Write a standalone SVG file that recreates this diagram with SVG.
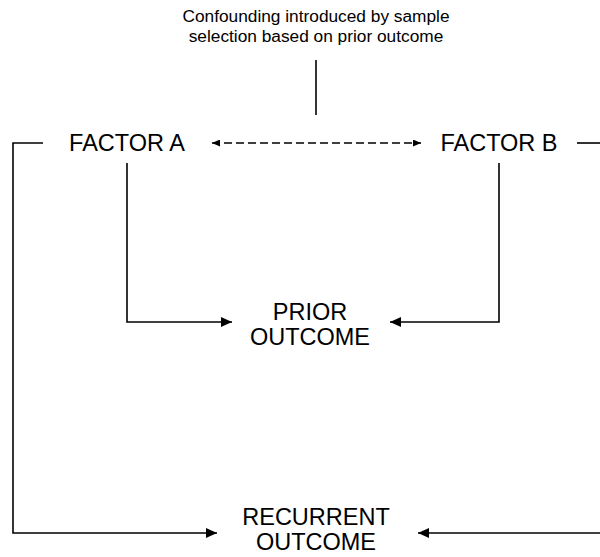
<svg xmlns="http://www.w3.org/2000/svg" width="600" height="557" viewBox="0 0 600 557">
<style>
.lbl{font-family:"Liberation Sans",Arial,sans-serif;font-size:23.5px;fill:#000;text-anchor:middle}
.note{font-family:"Liberation Sans",Arial,sans-serif;font-size:17.3px;fill:#000;text-anchor:middle}
.ln{fill:none;stroke:#000;stroke-width:1.6}
.dash{fill:none;stroke:#000;stroke-width:1.6;stroke-dasharray:8 4}
</style>
<defs>
<marker id="ah" viewBox="0 0 11 10" refX="11" refY="5" markerWidth="11" markerHeight="10" markerUnits="userSpaceOnUse" orient="auto">
<path d="M0,0 L11,5 L0,10 Z" fill="#000"/>
</marker>
<marker id="ahs" viewBox="0 0 8 7" refX="8" refY="3.5" markerWidth="8" markerHeight="7" markerUnits="userSpaceOnUse" orient="auto-start-reverse">
<path d="M0,0 L8,3.5 L0,7 Z" fill="#000"/>
</marker>
</defs>
<rect width="600" height="557" fill="#fff"/>
<g id="note">
<text class="note" x="316" y="22">Confounding introduced by sample</text>
<text class="note" x="316" y="42">selection based on prior outcome</text>
</g>
<g id="factorA"><text class="lbl" x="127" y="151">FACTOR A</text></g>
<g id="factorB"><text class="lbl" x="499" y="151">FACTOR B</text></g>
<g id="prior"><text class="lbl" x="310" y="320">PRIOR</text><text class="lbl" x="310" y="345">OUTCOME</text></g>
<g id="recurrent"><text class="lbl" x="316" y="525">RECURRENT</text><text class="lbl" x="316" y="550">OUTCOME</text></g>
<g id="connectors">
<path class="ln" d="M316,60 V115"/>
<path class="dash" d="M212,143 H421" marker-start="url(#ahs)" marker-end="url(#ahs)"/>
<path class="ln" d="M127,163 V322 H232" marker-end="url(#ah)"/>
<path class="ln" d="M499,163 V322 H390" marker-end="url(#ah)"/>
<path class="ln" d="M43,143 H13 V533 H217" marker-end="url(#ah)"/>
<path class="ln" d="M577,143 H600"/>
<path class="ln" d="M600,533 H418" marker-end="url(#ah)"/>
</g>
</svg>
